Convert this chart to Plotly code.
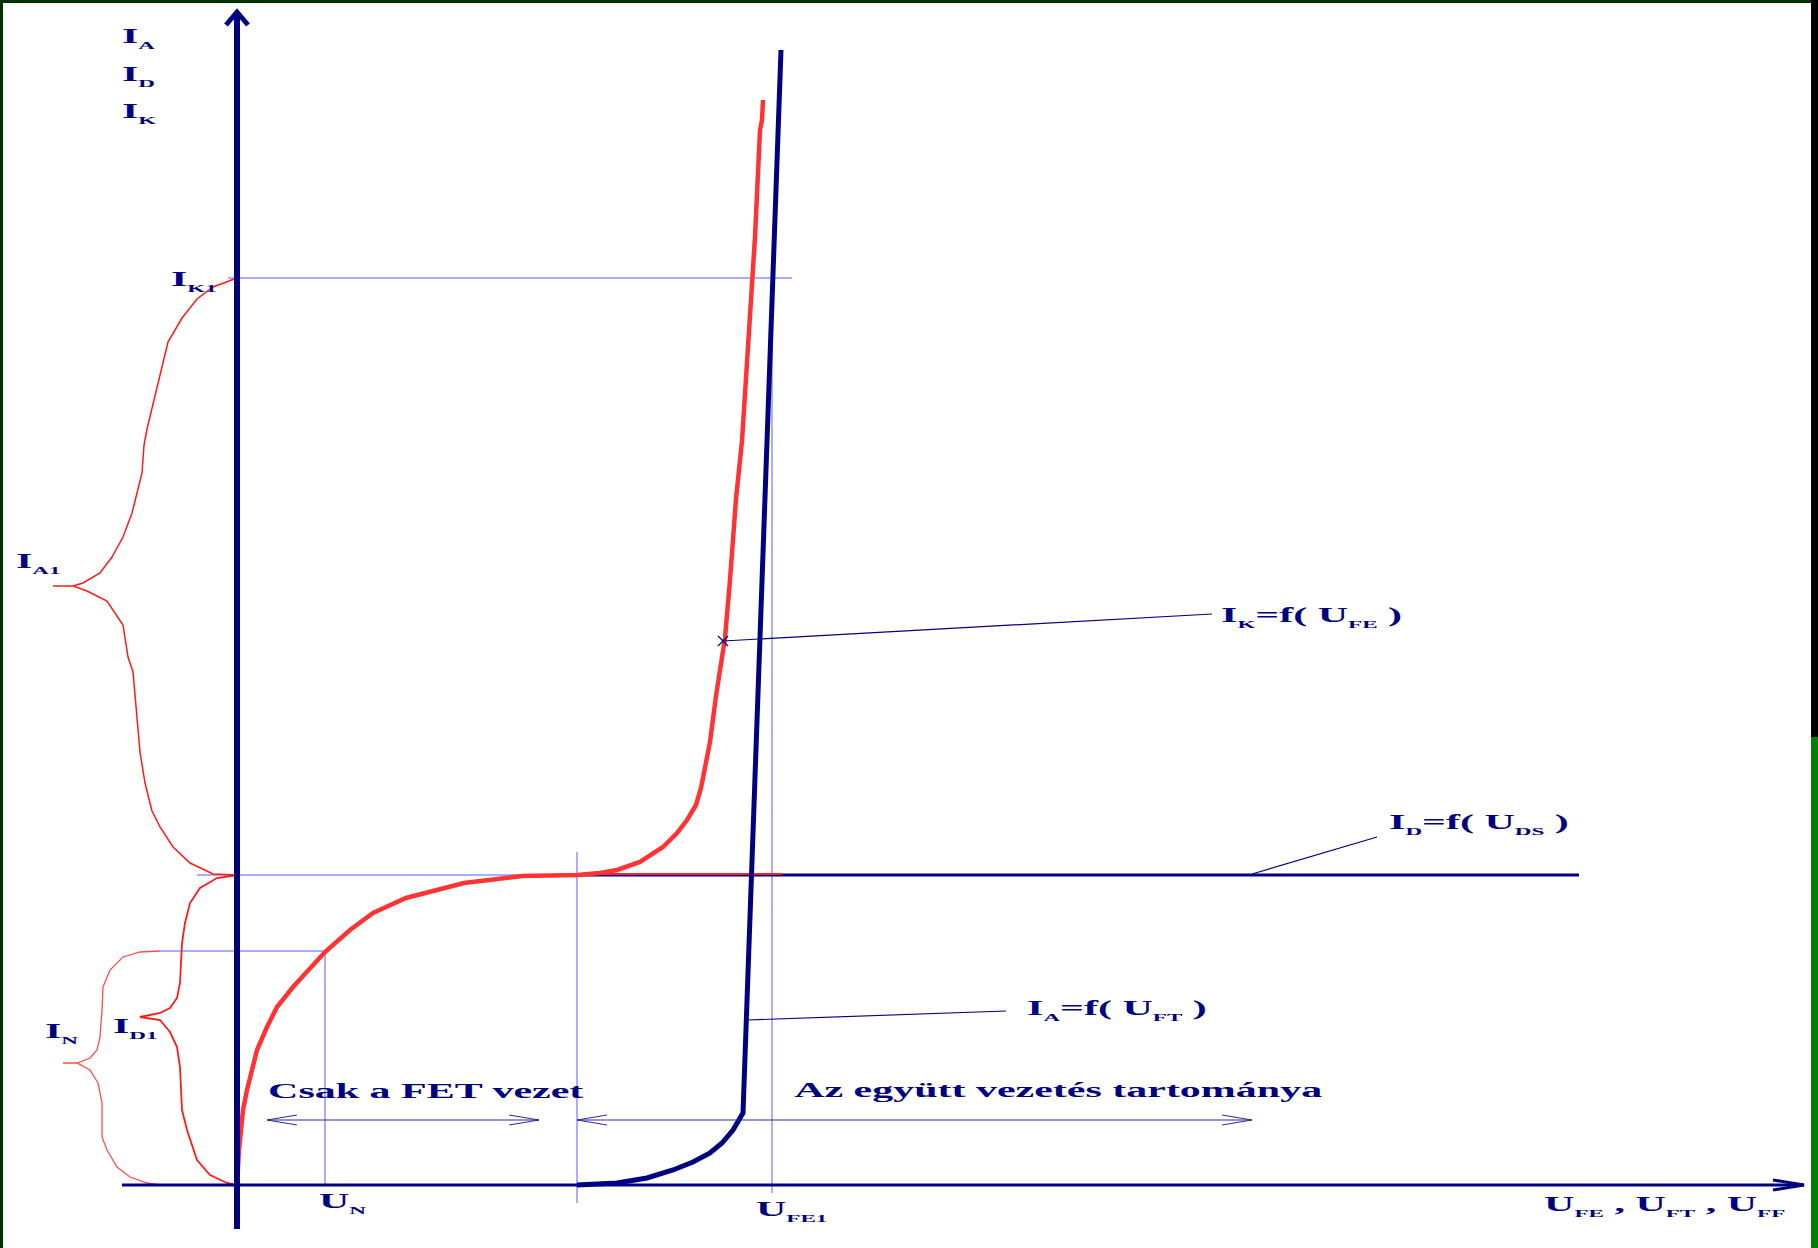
import plotly.graph_objects as go

# ---------------- data (U in arbitrary voltage units, I in arbitrary current units) ----------------
# I_K = f(U_FE)  (red, combined current)
ik_u = [0, 0.1, 0.2, 0.6, 1.0, 2.0, 3.0, 4.0, 5.6, 8.8, 11.3, 13.6, 16.9, 22.7, 28.5, 34.0, 36.3, 38.0,
        40.3, 42.6, 44.0, 45.0, 45.9, 46.4, 47.3, 47.9, 48.8, 49.3, 49.9, 50.5, 51.1, 51.5, 51.8, 52.1,
        52.3, 52.5, 52.6]
ik_i = [0, 2.0, 3.5, 7.5, 9.5, 13.5, 15.8, 17.8, 19.8, 23.3, 25.5, 27.2, 28.7, 30.2, 30.9, 31.0, 31.2, 31.5,
        32.3, 33.8, 35.2, 36.5, 38.0, 39.7, 44.3, 48.9, 54.7, 60.5, 68.6, 74.4, 83.7, 90.6, 94.8, 101.2,
        105.5, 106.5, 108.5]

# FET share inside the common region (thin red plateau)
ifet_u = [34.0, 54.5]
ifet_i = [31.1, 31.1]

# I_A = f(U_FT)  (navy)
ia_u = [34.0, 38.0, 41.0, 43.6, 45.6, 47.3, 48.5, 49.6, 50.6, 54.4]
ia_i = [0, 0.2, 0.7, 1.5, 2.3, 3.2, 4.2, 5.5, 7.2, 113.5]

# I_D = f(U_DS) plateau (navy)
id_u = [34.0, 134.2]
id_i = [31.0, 31.0]

# characteristic levels
I_K1 = 90.7
I_D1 = 31.0
I_N = 23.4
U_N = 8.8
U_B = 34.0      # boundary of the two regions
U_FE1 = 53.5

# braces
ia1_brace_u = [0, -2.4, -4.0, -5.5, -6.9, -7.5, -8.0, -8.5, -9.0, -9.3, -9.5, -10.0, -10.5, -11.4, -12.5,
               -13.7, -15.4, -16.4, -18.4, -16.4, -15.0, -13.0, -11.4, -10.9, -10.4, -10.2, -9.9, -9.7,
               -9.2, -8.5, -7.7, -6.4, -4.7, -2.4, 0]
ia1_brace_i = [90.7, 89.8, 88.6, 86.7, 84.3, 81.9, 79.9, 77.6, 75.6, 74.0, 71.2, 69.2, 67.2, 64.8, 62.8,
               61.2, 60.2, 59.9, 59.9, 59.9, 59.4, 58.4, 56.0, 52.8, 51.3, 48.9, 45.7, 43.3,
               40.2, 37.4, 35.8, 33.8, 32.2, 31.1, 31.0]
id1_brace_u = [0, -2.0, -3.7, -4.7, -5.2, -5.5, -5.7, -6.0, -6.7, -7.7, -9.7, -7.7, -6.7, -6.0, -5.7,
               -5.5, -5.0, -4.0, -2.7, -1.0, 0]
id1_brace_i = [31.0, 30.7, 29.7, 28.2, 26.2, 24.2, 20.2, 18.7, 17.7, 17.2, 16.8, 16.5, 15.3, 13.8, 11.8,
               7.5, 5.5, 2.5, 1.0, 0.2, 0]
in_brace_u = [-7.7, -9.7, -11.4, -12.7, -13.4, -13.5, -13.7, -14.0, -14.7, -16.0, -17.4, -16.0, -14.7,
              -13.9, -13.5, -13.5, -13.0, -12.0, -10.7, -9.0, -7.7]
in_brace_i = [23.4, 23.3, 22.8, 21.5, 19.8, 17.5, 14.8, 13.5, 12.7, 12.2, 12.2, 12.2, 11.5,
              10.2, 8.2, 4.8, 3.5, 1.8, 0.8, 0.2, 0]

# axes extents
x_axis_u = [-11.5, 156.7]
y_axis_i = [-4.4, 117.3]

NAVY = "#000080"
RED = "#ff3333"
BRACE = "#ff1a1a"
GUIDE = "#5a5aff"

fig = go.Figure()


def line(x, y, color, width, dash=None):
    fig.add_trace(go.Scatter(x=x, y=y, mode="lines", hoverinfo="skip",
                             line=dict(color=color, width=width, dash=dash)))


# guide lines
line([-0.9, 55.5], [I_K1, I_K1], GUIDE, 1)
line([-4.0, U_B], [I_D1, I_D1], GUIDE, 1)
line([-7.7, U_N], [I_N, I_N], GUIDE, 1)
line([U_N, U_N], [0, I_N], GUIDE, 1)
line([U_B, U_B], [-1.8, 33.3], GUIDE, 1)
line([U_FE1, U_FE1], [-0.8, I_K1], GUIDE, 1)

# curves
line(id_u, id_i, NAVY, 3)
line(ifet_u, ifet_i, "#ff2020", 2)
line(ia_u, ia_i, NAVY, 5)
line(ik_u, ik_i, RED, 4.5)

# braces
line(ia1_brace_u, ia1_brace_i, BRACE, 1.5)
line(id1_brace_u, id1_brace_i, BRACE, 1.8)
line(in_brace_u, in_brace_i, "#ff4d4d", 1.3)

# axes
line(x_axis_u, [0, 0], NAVY, 3)
line([x_axis_u[1] - 3.1, x_axis_u[1], x_axis_u[1] - 3.1], [0.5, 0, -0.5], NAVY, 3)
line([0, 0], y_axis_i, NAVY, 6)
line([-1.1, 0, 1.1], [y_axis_i[1] - 1.3, y_axis_i[1], y_axis_i[1] - 1.3], NAVY, 5)

# region arrows
ARW = "#2a2a9a"
line([3.0, 30.2], [6.5, 6.5], ARW, 1)
line([6.0, 3.0, 6.0], [7.0, 6.5, 6.0], ARW, 1)
line([27.2, 30.2, 27.2], [7.0, 6.5, 6.0], ARW, 1)
line([U_B, 101.5], [6.5, 6.5], ARW, 1)
line([U_B + 3.0, U_B, U_B + 3.0], [7.0, 6.5, 6.0], ARW, 1)
line([98.5, 101.5, 98.5], [7.0, 6.5, 6.0], ARW, 1)

# leader lines
line([48.6, 97.5], [54.4, 57.1], NAVY, 1.2)
line([101.5, 114.0], [31.1, 34.8], NAVY, 1.2)
line([51.1, 76.9], [16.5, 17.4], NAVY, 1.2)
fig.add_trace(go.Scatter(x=[48.6], y=[54.4], mode="markers", hoverinfo="skip",
                         marker=dict(symbol="x-thin", size=10, line=dict(color=NAVY, width=1.2))))

# ---------------- texts ----------------
S = "<span style='font-size:11px;baseline-shift:-6px'>%s</span>"


def sub(main, s):
    return main + (S % s)


labels = [
    (sub("I", "A"), -11.6, 114.0),
    (sub("I", "D"), -11.6, 110.2),
    (sub("I", "K"), -11.6, 106.5),
    (sub("I", "K1"), -6.7, 89.7),
    (sub("I", "A1"), -22.2, 61.5),
    (sub("I", "N"), -19.3, 14.5),
    (sub("I", "D1"), -12.5, 15.0),
    (sub("U", "N"), 8.1, -2.5),
    (sub("U", "FE1"), 51.8, -3.3),
    (sub("U", "FE") + " , " + sub("U", "FT") + " , " + sub("U", "FF"), 130.6, -2.8),
    (sub("I", "K") + "=f( " + sub("U", "FE") + " )", 98.3, 56.1),
    (sub("I", "D") + "=f( " + sub("U", "DS") + " )", 115.1, 35.4),
    (sub("I", "A") + "=f( " + sub("U", "FT") + " )", 78.9, 16.8),
    ("Csak a FET vezet", 3.0, 8.9),
    ("Az együtt vezetés tartománya", 55.6, 8.9),
]
for txt, x, y in labels:
    fig.add_annotation(x=x, y=y, text=txt, showarrow=False, xanchor="left", yanchor="bottom",
                       yshift=-7, borderpad=0,
                       font=dict(family="Liberation Serif", size=20, color=NAVY, weight="bold"))

# frame
W, H = 1818, 1248
fig.add_shape(type="rect", xref="paper", yref="paper", x0=0, x1=3 / W, y0=0, y1=1,
              fillcolor="#003300", line_width=0, layer="above")
fig.add_shape(type="rect", xref="paper", yref="paper", x0=0, x1=1, y0=1 - 3 / H, y1=1,
              fillcolor="#003300", line_width=0, layer="above")
fig.add_shape(type="rect", xref="paper", yref="paper", x0=1 - 7 / W, x1=1, y0=1 - 737 / H, y1=1,
              fillcolor="#000000", line_width=0, layer="above")
fig.add_shape(type="rect", xref="paper", yref="paper", x0=1 - 7 / W, x1=1, y0=0, y1=1 - 737 / H,
              fillcolor="#008000", line_width=0, layer="above")

fig.update_layout(
    width=W, height=H, autosize=False,
    margin=dict(l=0, r=0, t=0, b=0, pad=0),
    paper_bgcolor="white", plot_bgcolor="white",
    showlegend=False, hovermode=False,
    xaxis=dict(range=[-23.7, 158.1], visible=False, fixedrange=True),
    yaxis=dict(range=[-6.3, 118.5], visible=False, fixedrange=True),
)

post = """
document.body.style.margin='0';
document.body.style.overflow='hidden';
var gd = document.getElementById('{plot_id}');
gd.querySelectorAll('text.annotation-text').forEach(function(t){
  var b = t.getBBox();
  var tr = t.getAttribute('transform') || '';
  t.setAttribute('transform', tr + ' translate(' + b.x + ',0) scale(2.1,1) translate(' + (-b.x) + ',0)');
});
"""
fig.write_html("out.html", config={"displayModeBar": False, "staticPlot": True}, post_script=post)
